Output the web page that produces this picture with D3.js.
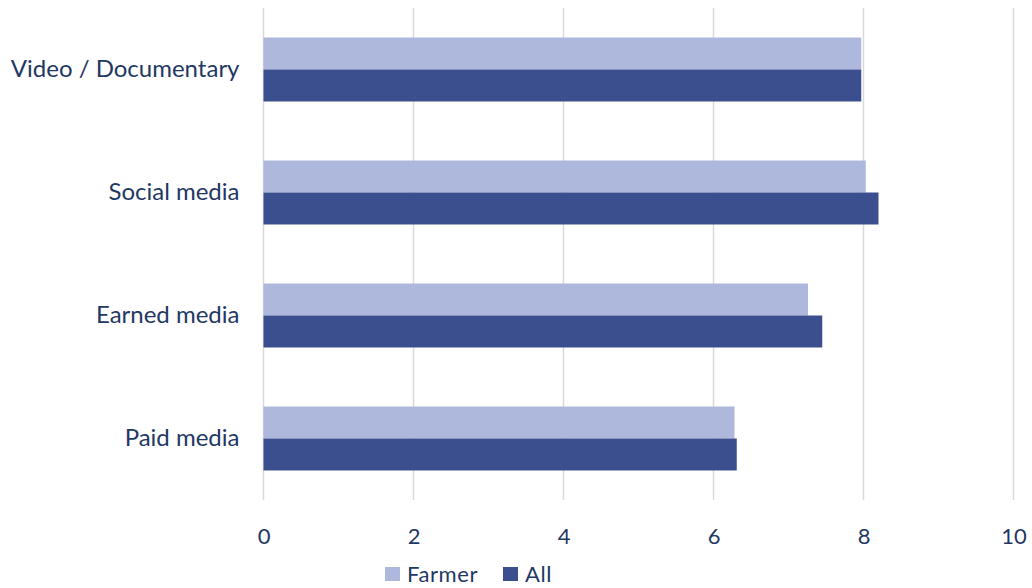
<!DOCTYPE html>
<html>
<head>
<meta charset="utf-8">
<script src="https://cdn.jsdelivr.net/npm/d3@7"></script>
<style>
  html, body { margin: 0; padding: 0; background: #ffffff; }
  svg { display: block; font-family: Lato, "Open Sans", sans-serif; }
</style>
</head>
<body>
<svg id="chart" width="1032" height="588"></svg>
<script>
// Channels, top to bottom
const categories = ["Video / Documentary", "Social media", "Earned media", "Paid media"];
// Series values per channel
const farmerValues = [7.97, 8.03, 7.26, 6.28];
const allValues = [7.97, 8.20, 7.45, 6.31];
const seriesNames = ["Farmer", "All"];
const xTicks = [0, 2, 4, 6, 8, 10];

const colors = { Farmer: "#adb8dc", All: "#3b4f8e" };
const textColor = "#1f3864";

const svg = d3.select("#chart");
const margin = { top: 8, right: 18, bottom: 88, left: 263.5 };
const width = 1032 - margin.left - margin.right;
const height = 588 - margin.top - margin.bottom;

const g = svg.append("g").attr("transform", `translate(${margin.left},${margin.top})`);

const x = d3.scaleLinear().domain([0, 10]).range([0, 750]);
const y = d3.scaleBand().domain(categories).range([0, height]).paddingInner(0.48).paddingOuter(0.24);
const ySub = d3.scaleBand().domain(seriesNames).range([0, y.bandwidth()]);

// Vertical gridlines
g.append("g")
  .selectAll("line")
  .data(xTicks)
  .join("line")
  .attr("x1", d => x(d)).attr("x2", d => x(d))
  .attr("y1", 0).attr("y2", height)
  .attr("stroke", "#d9d9d9").attr("stroke-width", 1.5);

// Bars
const rows = categories.map((c, i) => ({ c, vals: [
  { s: "Farmer", v: farmerValues[i] },
  { s: "All", v: allValues[i] }
] }));

g.append("g")
  .selectAll("g")
  .data(rows)
  .join("g")
  .attr("transform", d => `translate(0,${y(d.c)})`)
  .selectAll("rect")
  .data(d => d.vals)
  .join("rect")
  .attr("x", x(0))
  .attr("y", d => ySub(d.s))
  .attr("width", d => x(d.v) - x(0))
  .attr("height", ySub.bandwidth())
  .attr("fill", d => colors[d.s]);

// X axis labels
const xAxis = g.append("g")
  .attr("transform", `translate(0,${height})`)
  .call(d3.axisBottom(x).tickValues(xTicks).tickSize(0).tickPadding(28));
xAxis.select(".domain").remove();
xAxis.selectAll("text")
  .attr("fill", textColor)
  .style("font-size", "22px")
  .style("font-family", "Lato, sans-serif");

// Category labels
const yAxis = g.append("g")
  .call(d3.axisLeft(y).tickSize(0).tickPadding(24));
yAxis.select(".domain").remove();
yAxis.selectAll("text")
  .attr("fill", textColor)
  .style("font-size", "24px")
  .style("font-family", "Lato, sans-serif");

// Legend
const legend = svg.append("g").attr("transform", "translate(385,567)");
const legendItems = [
  { s: "Farmer", dx: 0 },
  { s: "All", dx: 118 }
];
const li = legend.selectAll("g").data(legendItems).join("g")
  .attr("transform", d => `translate(${d.dx},0)`);
li.append("rect")
  .attr("width", 15).attr("height", 14)
  .attr("fill", d => colors[d.s]);
li.append("text")
  .attr("x", 22).attr("y", 14.5)
  .attr("fill", textColor)
  .style("font-size", "22px")
  .style("letter-spacing", "0.6px")
  .text(d => d.s);
</script>
</body>
</html>
